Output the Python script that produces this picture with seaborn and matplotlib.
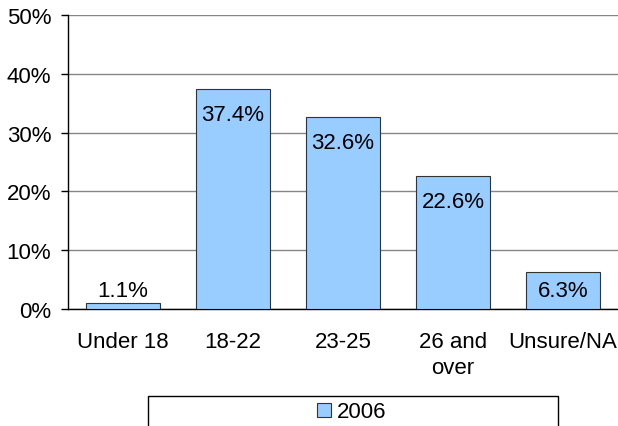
import matplotlib
matplotlib.use("Agg")
import matplotlib.pyplot as plt
import seaborn as sns
import pandas as pd
from matplotlib.patches import Rectangle
from matplotlib.ticker import FixedLocator

categories = ["Under 18", "18-22", "23-25", "26 and\nover", "Unsure/NA"]
values = [1.1, 37.4, 32.6, 22.6, 6.3]
value_labels = ["1.1%", "37.4%", "32.6%", "22.6%", "6.3%"]
series_name = "2006"
y_ticks = [0, 10, 20, 30, 40, 50]
y_tick_labels = ["0%", "10%", "20%", "30%", "40%", "50%"]

sns.set_style("white")
plt.rcParams["font.family"] = ["Liberation Sans", "DejaVu Sans"]
plt.rcParams["text.color"] = "black"
plt.rcParams["xtick.color"] = "black"
plt.rcParams["ytick.color"] = "black"
FS = 16

df = pd.DataFrame({"cat": categories, "val": values})

fig = plt.figure(figsize=(6.18, 4.27), dpi=100)
ax = fig.add_axes([68/618, 1-310/427, 1-68/618, (310-16)/427])

sns.barplot(data=df, x="cat", y="val", color="#99CCFF", saturation=1,
            edgecolor="#333333", linewidth=0.8, width=0.67, ax=ax,
            label=series_name, zorder=3)
if ax.get_legend() is not None:
    ax.get_legend().remove()

ax.set_xlim(-0.5, 4.5)
ax.set_ylim(0, 50)
ax.set_yticks(y_ticks)
ax.set_yticklabels(y_tick_labels, fontsize=FS, color="black")
ax.yaxis.grid(True, color="#868686", linewidth=1, zorder=0)
ax.set_axisbelow(True)
ax.set_xlabel("")
ax.set_ylabel("")

for s in ["top", "right"]:
    ax.spines[s].set_visible(False)
for s in ["left", "bottom"]:
    ax.spines[s].set_color("black")
    ax.spines[s].set_linewidth(1)

ax.set_xticks(range(len(categories)))
ax.set_xticklabels(categories, fontsize=FS, linespacing=1.3, color="black")
ax.tick_params(axis="x", which="major", length=0, pad=16)
ax.xaxis.set_minor_locator(FixedLocator([0.5, 1.5, 2.5, 3.5]))
ax.tick_params(axis="x", which="minor", length=5, width=1, color="black", direction="out")
ax.tick_params(axis="y", length=5, width=1, color="black", direction="out", pad=7, left=True)

for i, (v, lab) in enumerate(zip(values, value_labels)):
    if v > 8.5:
        y = v - 4.3
    elif v > 3.4:
        y = v / 2
    else:
        y = v + 2.0
    ax.text(i, y, lab, ha="center", va="center", fontsize=FS, color="black", zorder=5)

# legend box
fig.patches.append(Rectangle((148/618, -0.05), (558-148)/618, 1-397/427+0.05,
                             transform=fig.transFigure, facecolor="white",
                             edgecolor="black", linewidth=1, zorder=1))
handles, labels = ax.get_legend_handles_labels()
leg = fig.legend(handles, labels, loc="center", bbox_to_anchor=(352/618, 1-413/427),
                 bbox_transform=fig.transFigure, frameon=False, fontsize=FS,
                 handlelength=0.6, handleheight=0.6, handletextpad=0.3)
leg.set_zorder(5)

fig.savefig("out.png", dpi=100)
